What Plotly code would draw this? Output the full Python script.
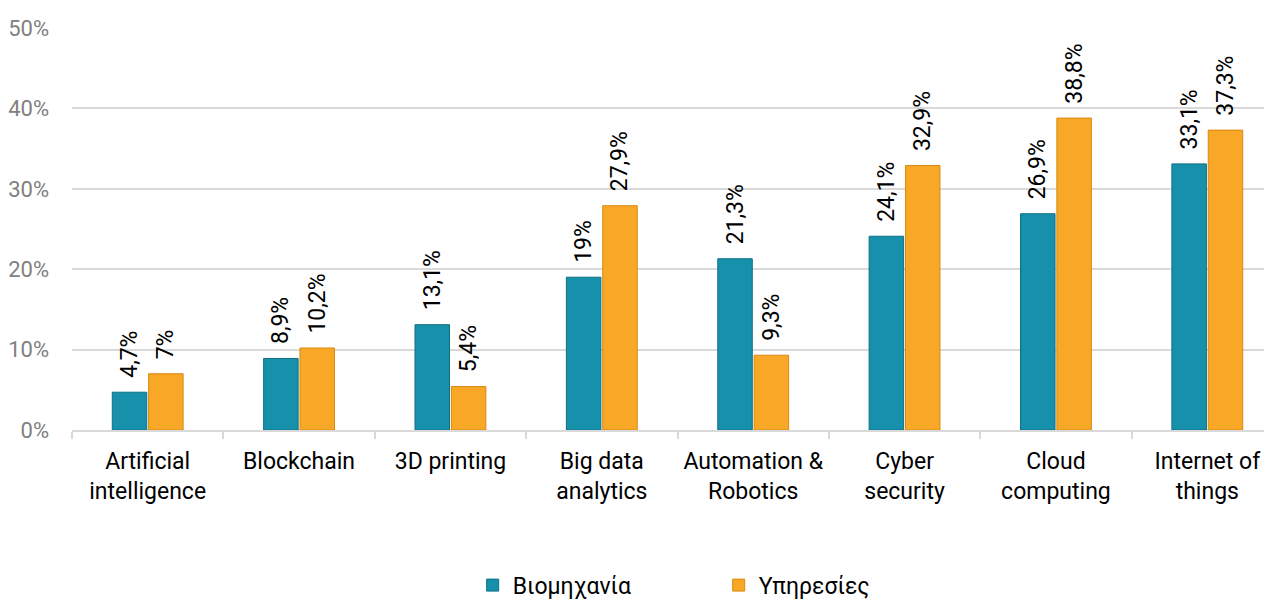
import plotly.graph_objects as go

categories = ["Artificial<br>intelligence", "Blockchain", "3D printing", "Big data<br>analytics",
              "Automation &<br>Robotics", "Cyber<br>security", "Cloud<br>computing", "Internet of<br>things"]
industry = [4.7, 8.9, 13.1, 19, 21.3, 24.1, 26.9, 33.1]
services = [7, 10.2, 5.4, 27.9, 9.3, 32.9, 38.8, 37.3]
y_ticks = [0, 10, 20, 30, 40, 50]


def fmt(v):
    # leading nbsp pushes rotated label a bit away from the bar top
    return "\u00a0\u00a0" + ("%g" % v).replace(".", ",") + "%"


fig = go.Figure()
fig.add_trace(go.Bar(
    x=categories, y=industry, name="Βιομηχανία",
    marker=dict(color="#1690ab", line=dict(color="#0e6f84", width=1)),
    text=[fmt(v) for v in industry], textposition="outside", textangle=-90,
    textfont=dict(size=23, color="black"), cliponaxis=False,
))
fig.add_trace(go.Bar(
    x=categories, y=services, name="Υπηρεσίες",
    marker=dict(color="#f9a726", line=dict(color="#d98a12", width=1)),
    text=[fmt(v) for v in services], textposition="outside", textangle=-90,
    textfont=dict(size=23, color="black"), cliponaxis=False,
))

# page body has an 8px margin; the plot area runs slightly past the right edge like the original
fig.update_layout(
    width=1280, height=601,
    margin=dict(l=64, r=5, t=20, b=179, autoexpand=False),
    paper_bgcolor="white", plot_bgcolor="white",
    font=dict(family="Roboto, DejaVu Sans, sans-serif", size=22, color="black"),
    barmode="group", bargap=0.52, bargroupgap=0.05,
    uniformtext=dict(minsize=23, mode="show"),
    legend=dict(orientation="h", x=0.534, xanchor="center", y=-0.386, yanchor="middle",
                font=dict(size=23, color="black"), itemwidth=30, entrywidth=201),
    showlegend=True,
)
fig.update_yaxes(
    range=[0, 50], tickvals=y_ticks, ticktext=[f"{t}%" for t in y_ticks],
    showgrid=True, gridcolor="#d9d9d9", gridwidth=1.5,
    ticks="", ticklabelstandoff=22, automargin=False,
    tickfont=dict(size=22, color="#808080"), zeroline=False,
    showline=False,
)
fig.update_xaxes(
    showline=True, linecolor="#d9d9d9", linewidth=1.5,
    ticks="outside", tickson="boundaries", ticklen=7, tickcolor="#d9d9d9", tickwidth=1.5,
    tickfont=dict(size=23, color="black"), tickangle=0, ticklabelstandoff=10,
    automargin=False,
)

fig.write_html("out.html")
